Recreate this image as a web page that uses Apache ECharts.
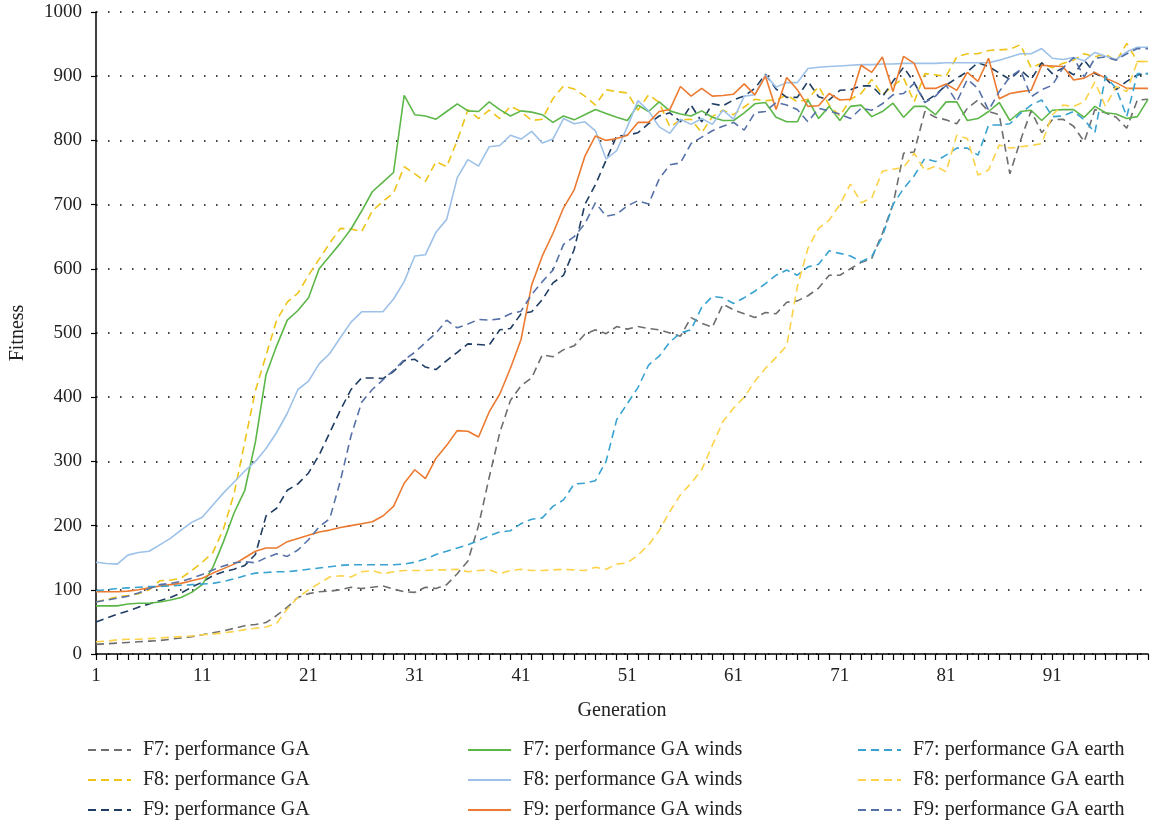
<!DOCTYPE html>
<html>
<head>
<meta charset="utf-8">
<script src="https://cdn.jsdelivr.net/npm/echarts@6/dist/echarts.min.js"></script>
<style>
  html, body { margin: 0; padding: 0; background: #fff; }
  #chart { width: 1153px; height: 827px; }
</style>
</head>
<body>
<div id="chart"></div>
<script>
// Generations on the x axis
const generations = Array.from({ length: 100 }, (_, i) => String(i + 1));
const yTicks = [0, 100, 200, 300, 400, 500, 600, 700, 800, 900, 1000];

// Fitness per generation, plain GA
const f7GA = [15,16,17,18,19,20,21,23,25,27,30,33,36,40,44,46,49,60,73,88,94,97,98,100,104,102,104,106,101,97,96,104,102,108,125,145,200,275,345,395,418,430,466,463,474,480,498,505,499,510,506,510,507,505,500,495,524,515,509,545,536,530,524,532,530,548,550,558,570,590,590,600,610,616,655,700,780,782,845,836,832,826,850,863,845,840,748,800,846,812,832,833,822,798,848,843,836,819,863,864];
const f8GA = [81,85,89,91,94,100,114,115,118,130,143,158,195,250,330,410,465,520,548,562,590,615,640,663,662,658,690,705,718,759,748,736,767,759,800,848,834,847,834,853,845,831,833,865,885,880,869,855,879,876,874,847,871,859,821,832,833,812,837,847,840,852,864,862,863,871,860,864,884,855,838,864,873,895,871,885,897,860,904,902,900,930,935,935,940,941,942,949,913,920,913,920,925,935,930,935,923,951,923,923];
const f9GA = [50,56,62,67,73,78,83,88,95,104,112,122,128,132,138,155,215,227,255,265,282,310,345,380,412,430,430,429,440,457,459,447,443,457,470,483,482,481,505,507,530,533,552,578,590,630,700,731,769,807,808,812,826,838,843,829,855,829,857,854,863,869,881,903,880,867,867,892,868,863,878,879,885,885,868,892,914,890,860,871,886,897,907,921,915,905,895,910,895,921,904,913,902,925,904,897,879,892,902,904];

// Fitness per generation, GA winds
const f7Winds = [75,75,75,78,79,79,81,84,88,96,108,135,175,220,255,330,435,480,520,535,555,600,620,640,662,690,720,735,750,870,840,838,833,845,857,846,845,860,848,838,846,844,840,828,838,832,840,848,842,836,831,855,845,860,846,841,838,846,836,831,831,843,857,859,836,829,829,863,834,853,831,853,855,837,845,858,836,853,853,840,860,860,831,834,845,859,831,845,847,831,847,848,848,836,853,843,841,834,837,864];
const f8Winds = [143,141,140,154,158,160,170,180,193,205,213,232,251,268,285,300,320,345,375,412,425,452,468,493,517,533,533,533,553,580,620,622,657,677,742,770,760,790,792,808,802,814,796,802,834,826,829,815,771,784,821,862,846,821,811,833,825,834,825,847,833,869,871,902,883,890,890,912,914,915,916,917,918,918,919,919,920,920,920,920,921,921,921,921,921,925,930,935,935,943,928,926,929,924,937,931,926,938,945,945];
const f9Winds = [97,97,97,98,100,103,106,108,110,114,118,126,133,140,150,160,165,165,175,180,185,190,193,197,200,203,206,215,230,266,287,273,305,325,348,347,338,377,405,445,490,575,620,655,695,723,775,807,800,803,808,828,828,845,848,884,869,881,869,870,872,888,871,900,848,898,879,853,854,873,863,864,917,906,930,876,931,920,881,881,888,878,906,892,928,865,873,876,878,917,916,915,894,897,906,897,890,881,881,881];

// Fitness per generation, GA earth
const f7Earth = [99,100,102,103,104,105,105,106,107,108,109,110,113,117,122,126,127,128,128,130,132,134,136,138,139,139,139,139,139,140,143,148,155,160,165,170,177,184,190,192,203,210,212,230,240,265,266,270,300,365,390,415,450,464,486,500,505,540,557,555,546,555,565,577,590,598,590,603,607,628,624,620,611,619,650,700,725,745,772,767,777,788,788,777,824,824,826,842,855,863,837,838,845,832,812,900,881,837,904,904];
const f8Earth = [19,20,22,23,23,24,25,26,27,28,30,31,33,35,38,40,42,48,70,88,100,110,120,122,120,128,130,125,128,130,130,130,131,131,132,128,130,131,125,130,132,130,130,131,132,131,130,135,132,140,142,154,170,192,222,248,266,287,325,362,383,400,425,445,462,480,572,632,663,676,700,732,703,710,752,755,758,780,753,760,751,808,803,746,754,793,788,790,792,795,840,855,853,860,891,853,884,876,923,923];
const f9Earth = [81,84,87,90,95,102,108,110,113,118,124,131,137,142,144,142,150,156,152,162,178,198,211,270,340,392,412,427,442,458,470,485,500,520,508,514,521,520,522,530,534,560,580,598,638,650,670,703,682,685,698,706,701,740,762,765,795,805,815,822,828,816,843,845,859,855,848,829,850,846,841,834,850,847,857,871,873,889,859,869,886,860,895,881,847,876,899,910,868,879,886,913,929,899,928,930,925,935,943,943];

const FONT = '"Liberation Serif", "DejaVu Serif", serif';
const DASH = [8, 5];

function line(name, data, color, dashed) {
  return {
    name: name,
    type: 'line',
    data: data,
    symbol: 'none',
    smooth: false,
    lineStyle: { color: color, width: 1.6, type: dashed ? DASH : 'solid' },
    itemStyle: { color: color }
  };
}

const series = [
  line('F7: performance GA', f7GA, '#6e6e6e', true),
  line('F8: performance GA', f8GA, '#eec41a', true),
  line('F9: performance GA', f9GA, '#1f3d63', true),
  line('F7: performance GA winds', f7Winds, '#5cb748', false),
  line('F8: performance GA winds', f8Winds, '#9dc1e8', false),
  line('F9: performance GA winds', f9Winds, '#ec7a30', false),
  line('F7: performance GA earth', f7Earth, '#38a3d1', true),
  line('F8: performance GA earth', f8Earth, '#fcd34a', true),
  line('F9: performance GA earth', f9Earth, '#5671a8', true)
];

// One legend column per algorithm variant; only the line sample is shown
function legendColumn(left, names) {
  return {
    data: names,
    orient: 'vertical',
    left: left,
    top: 735,
    itemWidth: 43,
    itemHeight: 14,
    itemGap: 10,
    itemStyle: { color: 'rgba(0,0,0,0)', borderColor: 'rgba(0,0,0,0)', borderWidth: 0 },
    textStyle: { fontFamily: FONT, fontSize: 20, color: '#222', lineHeight: 20, padding: [0, 0, 0, 7] }
  };
}

const chart = echarts.init(document.getElementById('chart'), null, { renderer: 'canvas' });
chart.setOption({
  animation: false,
  backgroundColor: '#ffffff',
  grid: { left: 95, right: 5, top: 12, bottom: 173, containLabel: false },
  xAxis: {
    type: 'category',
    data: generations,
    boundaryGap: false,
    name: 'Generation',
    nameLocation: 'middle',
    nameGap: 47,
    nameTextStyle: { fontFamily: FONT, fontSize: 20, color: '#222' },
    axisLine: { lineStyle: { color: '#000', width: 1.5 } },
    axisTick: { show: true, interval: 0, length: 6, lineStyle: { color: '#000', width: 1.2 } },
    axisLabel: { interval: 9, fontFamily: FONT, fontSize: 19, color: '#222', margin: 13 },
    splitLine: { show: false }
  },
  yAxis: {
    type: 'value',
    min: yTicks[0],
    max: yTicks[yTicks.length - 1],
    interval: 100,
    name: 'Fitness',
    nameLocation: 'middle',
    nameGap: 68,
    nameRotate: 90,
    nameTextStyle: { fontFamily: FONT, fontSize: 20, color: '#222' },
    axisLine: { show: true, lineStyle: { color: '#000', width: 1.5 } },
    axisTick: { show: true, length: 5, lineStyle: { color: '#000', width: 1.2 } },
    axisLabel: { fontFamily: FONT, fontSize: 19, color: '#222', margin: 14, formatter: v => String(v) },
    splitLine: { show: true, lineStyle: { color: '#000', width: 1.5, type: [1.5, 10.5] } }
  },
  legend: [
    legendColumn(82, ['F7: performance GA', 'F8: performance GA', 'F9: performance GA']),
    legendColumn(462, ['F7: performance GA winds', 'F8: performance GA winds', 'F9: performance GA winds']),
    legendColumn(852, ['F7: performance GA earth', 'F8: performance GA earth', 'F9: performance GA earth'])
  ],
  series: series
});
</script>
</body>
</html>
